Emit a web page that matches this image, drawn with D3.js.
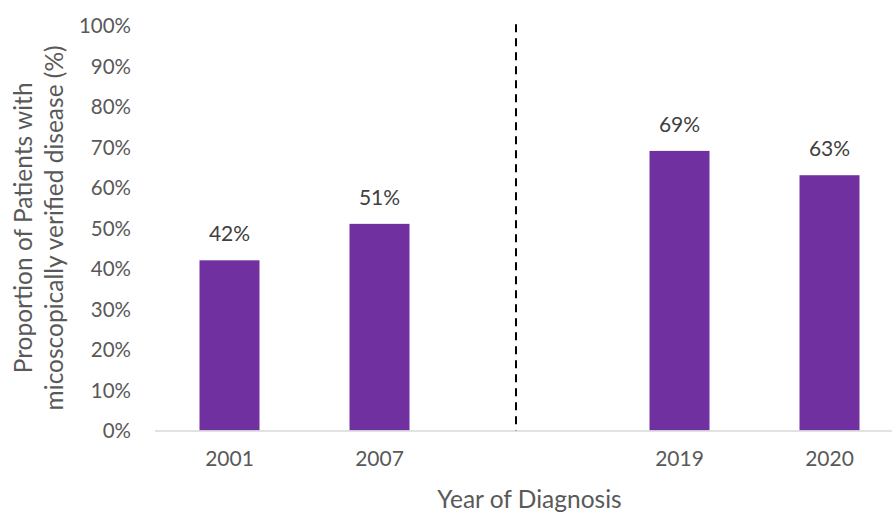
<!DOCTYPE html>
<html>
<head>
<meta charset="utf-8">
<script src="https://cdn.jsdelivr.net/npm/d3@7"></script>
<style>
  html, body { margin: 0; padding: 0; background: #fff; }
  svg { display: block; font-family: Lato, "Open Sans", sans-serif; }
</style>
</head>
<body>
<svg id="chart" width="892" height="516"></svg>
<script>
// Years of diagnosis (blank slot separates the two periods)
const categories = ["2001", "2007", "", "2019", "2020"];
// Proportion of patients with microscopically verified disease
const values = [0.42, 0.51, null, 0.69, 0.63];
// Y-axis tick values
const yTicks = [0, 0.1, 0.2, 0.3, 0.4, 0.5, 0.6, 0.7, 0.8, 0.9, 1.0];
// Divider position, in category steps from the left edge of the plot
const dividerPos = 2.41;

const svg = d3.select("#chart");

const x = d3.scaleBand()
  .domain(categories)
  .range([154.5, 904.5])
  .paddingInner(0.6)
  .paddingOuter(0.3);

const y = d3.scaleLinear()
  .domain([0, 1])
  .range([430.5, 25.3]);

const fmt = d3.format(".0%");

// Y axis labels only (no line, no ticks)
const yAxis = svg.append("g")
  .attr("transform", "translate(131,0)")
  .call(d3.axisLeft(y).tickValues(yTicks).tickFormat(fmt).tickSize(0).tickPadding(0));
yAxis.select(".domain").remove();
yAxis.selectAll("text")
  .attr("fill", "#595959")
  .attr("font-size", 20.5)
  .attr("font-family", "Lato, sans-serif")
  .attr("dy", "0.35em");

// Bars
const barData = categories.map((c, i) => ({ c, v: values[i] })).filter(d => d.v != null);
svg.append("g").selectAll("rect")
  .data(barData)
  .join("rect")
  .attr("x", d => x(d.c))
  .attr("width", x.bandwidth())
  .attr("y", d => y(d.v))
  .attr("height", d => y(0) - y(d.v))
  .attr("fill", "#7030A0");

// Value labels
svg.append("g").selectAll("text")
  .data(barData)
  .join("text")
  .attr("x", d => x(d.c) + x.bandwidth() / 2)
  .attr("y", d => y(d.v) - 19)
  .attr("text-anchor", "middle")
  .attr("fill", "#404040")
  .attr("font-size", 21)
  .text(d => fmt(d.v));

// X axis
const xAxis = svg.append("g")
  .attr("transform", `translate(0,${y(0)})`)
  .call(d3.axisBottom(x).tickSize(0).tickPadding(21));
xAxis.select(".domain").attr("stroke", "#D9D9D9").attr("stroke-width", 1.5);
xAxis.selectAll("text")
  .attr("fill", "#595959")
  .attr("font-size", 21)
  .attr("font-family", "Lato, sans-serif");

// Dashed divider between the two periods
const xDiv = x.range()[0] + x.step() * dividerPos;
svg.append("line")
  .attr("x1", xDiv).attr("x2", xDiv)
  .attr("y1", y(1) - 1).attr("y2", y(0))
  .attr("stroke", "#000")
  .attr("stroke-width", 2)
  .attr("stroke-dasharray", "8,6");

// Axis titles
svg.append("text")
  .attr("x", x("") + x.bandwidth() / 2)
  .attr("y", 508)
  .attr("text-anchor", "middle")
  .attr("fill", "#595959")
  .attr("font-size", 24.5)
  .text("Year of Diagnosis");

const yTitle = svg.append("text")
  .attr("transform", `translate(0,${(y(0) + y(1)) / 2}) rotate(-90)`)
  .attr("text-anchor", "middle")
  .attr("fill", "#595959")
  .attr("font-size", 24.5);
yTitle.append("tspan").attr("x", 0).attr("y", 32).text("Proportion of Patients with");
yTitle.append("tspan").attr("x", 0).attr("y", 63).text("micoscopically verified disease (%)");
</script>
</body>
</html>
